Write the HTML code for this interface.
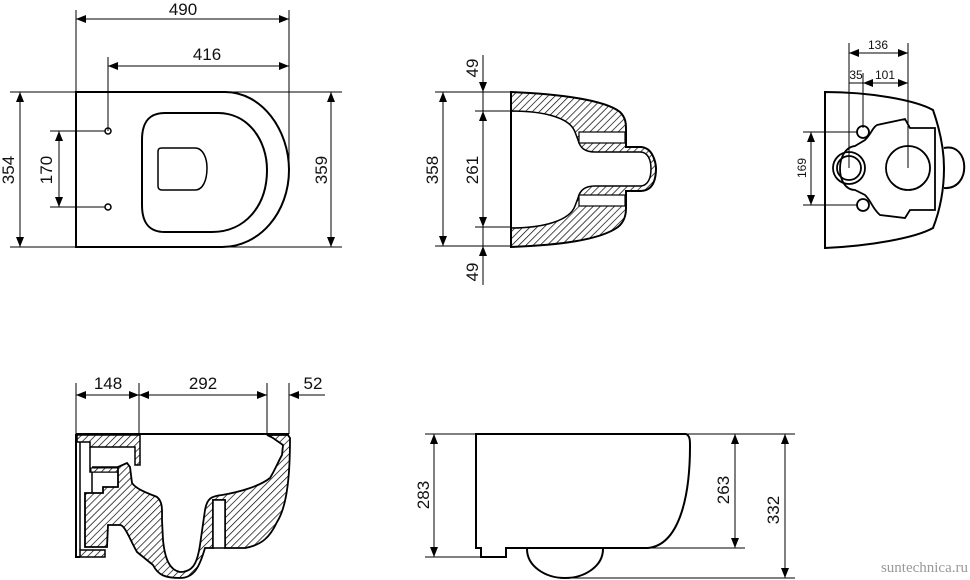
<!DOCTYPE html>
<html><head><meta charset="utf-8"><style>
html,body{margin:0;padding:0;background:#fff}
svg{display:block}
text{font-family:"Liberation Sans",sans-serif;fill:#111}
</style></head><body>
<svg width="970" height="580" viewBox="0 0 970 580" xmlns="http://www.w3.org/2000/svg">
<defs>
<marker id="a" viewBox="0 0 10 8" refX="10" refY="4" markerWidth="10" markerHeight="8" markerUnits="userSpaceOnUse" orient="auto-start-reverse"><path d="M0,0 L10,4 L0,8 Z" fill="#000"/></marker>
<pattern id="h" width="5" height="5" patternUnits="userSpaceOnUse" patternTransform="rotate(45)"><rect width="5" height="5" fill="#fff"/><line x1="0" y1="0" x2="0" y2="5" stroke="#000" stroke-width="1.4"/></pattern>
</defs>
<g stroke="#000" stroke-width="1" fill="none">
<!-- TOP LEFT -->
<line x1="76" y1="10" x2="76" y2="248"/><line x1="289" y1="10" x2="289" y2="170"/>
<line x1="108" y1="57" x2="108" y2="131"/>
<line x1="76" y1="19" x2="289" y2="19" marker-start="url(#a)" marker-end="url(#a)"/>
<line x1="108" y1="66" x2="289" y2="66" marker-start="url(#a)" marker-end="url(#a)"/>
<line x1="10" y1="92" x2="342" y2="92"/><line x1="10" y1="247" x2="342" y2="247"/>
<line x1="20" y1="92" x2="20" y2="247" marker-start="url(#a)" marker-end="url(#a)"/>
<line x1="331" y1="92" x2="331" y2="247" marker-start="url(#a)" marker-end="url(#a)"/>
<line x1="50" y1="131" x2="105" y2="131"/><line x1="50" y1="207" x2="105" y2="207"/>
<line x1="59" y1="131" x2="59" y2="207" marker-start="url(#a)" marker-end="url(#a)"/>
<path d="M76,92 L225,92 C262,92 289,130 289,170 C289,212 260,247 222,247 L76,247 Z" stroke-width="2"/>
<path d="M165,113 L218,113 C248,113 267,140 267,170 C267,206 245,232 212,232 L165,232 C150,232 142,224 142,205 L142,140 C142,121 150,113 165,113 Z" stroke-width="2"/>
<path d="M162,148 L195,148 C203,148 207,158 207,168 C207,180 203,190 195,190 L162,190 C159,190 158,188 158,186 L158,152 C158,149 159,148 162,148 Z" stroke-width="1.5"/>
<circle cx="108" cy="131" r="3" stroke-width="1.5"/><circle cx="108" cy="207" r="3" stroke-width="1.5"/>

<!-- TOP MIDDLE -->
<line x1="435" y1="92" x2="512" y2="92"/><line x1="435" y1="246" x2="512" y2="246"/>
<line x1="475" y1="111" x2="512" y2="111"/><line x1="475" y1="227" x2="512" y2="227"/>
<line x1="443" y1="92" x2="443" y2="246" marker-start="url(#a)" marker-end="url(#a)"/>
<line x1="483" y1="111" x2="483" y2="227" marker-start="url(#a)" marker-end="url(#a)"/>
<line x1="483" y1="55" x2="483" y2="92" marker-end="url(#a)"/>
<line x1="483" y1="285" x2="483" y2="246" marker-end="url(#a)"/>
<line x1="483" y1="92" x2="483" y2="111"/><line x1="483" y1="227" x2="483" y2="246"/>
<path d="M511,92 C560,94 605,100 620,112 C626,118 626,124 626,130 L626,147 L640,147 C655,147 656,168 656,168 C656,190 645,191 640,191 L626,191 L626,208 C626,216 624,222 618,227 C600,240 560,245 511,247 Z" fill="url(#h)" stroke-width="2"/>
<path d="M511,111 C545,111 570,118 575,132 L578,140 C580,148 585,152 595,152 L640,152 C648,152 651,160 651,169 C651,178 648,186 640,186 L595,186 C585,186 580,190 578,198 L575,206 C570,220 545,228 511,228 Z" fill="#fff" stroke-width="1.5"/>
<rect x="579" y="132" width="46" height="11" fill="#fff" stroke-width="1.2"/>
<rect x="579" y="195" width="46" height="11" fill="#fff" stroke-width="1.2"/>
<line x1="511" y1="92" x2="511" y2="247" stroke-width="2"/>

<!-- TOP RIGHT -->
<line x1="849" y1="43" x2="849" y2="168"/><line x1="908" y1="43" x2="908" y2="168"/>
<line x1="863" y1="73" x2="863" y2="128"/>
<line x1="849" y1="53" x2="908" y2="53" marker-start="url(#a)" marker-end="url(#a)"/>
<line x1="849" y1="83" x2="863" y2="83"/>
<line x1="863" y1="83" x2="908" y2="83" marker-start="url(#a)" marker-end="url(#a)"/>
<line x1="803" y1="132" x2="858" y2="132"/><line x1="803" y1="205" x2="858" y2="205"/>
<line x1="811" y1="132" x2="811" y2="205" marker-start="url(#a)" marker-end="url(#a)"/>
<path d="M825,92 C870,92 915,100 933,110 C940,130 944,150 944,168 C944,190 940,210 933,228 C915,238 870,246 825,248 Z" stroke-width="2"/>
<path d="M944,148 C970,142 972,190 944,188" stroke-width="2"/>
<path d="M877,125 L905,119 L910,128 L935,128 L935,210 L910,210 L905,218 L880,215 C872,208 872,202 865,195 L855,190 C835,190 835,148 855,146 L865,140 C872,133 872,128 877,125 Z" stroke-width="1.8"/>
<circle cx="908" cy="168" r="22" stroke-width="1.8"/>
<circle cx="849" cy="168" r="16" stroke-width="1.8"/><circle cx="849" cy="168" r="12" stroke-width="1.8"/>
<circle cx="863" cy="132" r="6" stroke-width="1.8"/><circle cx="863" cy="205" r="6" stroke-width="1.8"/>

<!-- BOTTOM LEFT -->
<line x1="76" y1="383" x2="76" y2="434"/><line x1="139" y1="383" x2="139" y2="434"/>
<line x1="267" y1="383" x2="267" y2="434"/><line x1="289" y1="383" x2="289" y2="434"/>
<line x1="76" y1="395" x2="139" y2="395" marker-start="url(#a)" marker-end="url(#a)"/>
<line x1="139" y1="395" x2="267" y2="395" marker-start="url(#a)" marker-end="url(#a)"/>
<line x1="325" y1="395" x2="289" y2="395" marker-end="url(#a)"/>
<line x1="76" y1="434" x2="289" y2="434" stroke-width="2"/>
<path d="M76,434 L76,557 L80,557" stroke-width="2"/>
<line x1="80" y1="438" x2="80" y2="550" stroke-width="1.5"/>
<path d="M77,435 L140,435 L140,465 L135,465 L135,447 L90,447 L90,442 L77,442 Z" fill="url(#h)" stroke-width="1.5"/>
<path d="M90,447 L90,472 L118,472 L118,467 L92,467" stroke-width="1.5"/>
<rect x="91" y="468" width="27" height="4" fill="url(#h)" stroke-width="1"/>
<line x1="92" y1="472" x2="92" y2="493" stroke-width="1.5"/>
<path d="M85,493 L103,493 L103,487 L118,487 L118,467 L127,463 L130,467 L132,483 C137,490 150,494 157,497 C163,502 162,510 162,520 L163,540 C165,560 170,570 180,572 C192,572 197,565 200,545 L205,510 C207,498 212,496 222,495 C240,492 260,486 270,478 C275,470 278,462 282,455 L283,445 L273,438 L267,435 L288,435 L290,438 C290,470 288,505 277,522 C270,537 262,545 245,548 L225,548 L225,500 L213,500 L213,548 L205,548 C200,565 195,578 180,578 C165,578 158,575 153,565 L137,552 C130,540 125,525 120,525 L108,525 L107,547 L85,547 Z" fill="url(#h)" stroke-width="1.8"/>
<rect x="213" y="500" width="12" height="48" fill="#fff" stroke-width="1.5"/>
<path d="M80,550 L105,550 L105,557 L80,557 Z" fill="url(#h)" stroke-width="1.5"/>

<!-- BOTTOM MIDDLE -->
<line x1="425" y1="434" x2="795" y2="434"/>
<line x1="425" y1="557" x2="480" y2="557"/>
<line x1="648" y1="548" x2="745" y2="548"/>
<line x1="565" y1="578" x2="795" y2="578"/>
<line x1="434" y1="434" x2="434" y2="557" marker-start="url(#a)" marker-end="url(#a)"/>
<line x1="735" y1="434" x2="735" y2="548" marker-start="url(#a)" marker-end="url(#a)"/>
<line x1="785" y1="434" x2="785" y2="578" marker-start="url(#a)" marker-end="url(#a)"/>
<path d="M476,434 L686,434 C690,436 690,440 690,446 C690,500 678,545 648,548 L506,548 L506,557 L481,557 L481,548 L476,548 Z" stroke-width="2" fill="#fff"/>
<path d="M527,549 C527,566 545,578 565,578 C585,578 603,566 603,549" stroke-width="2"/>
</g>
<g font-size="17">
<text x="183" y="15" text-anchor="middle">490</text>
<text x="207" y="60" text-anchor="middle">416</text>
<text transform="translate(14,170) rotate(-90)" text-anchor="middle">354</text>
<text transform="translate(52,170) rotate(-90)" text-anchor="middle">170</text>
<text transform="translate(327,170) rotate(-90)" text-anchor="middle">359</text>
<text transform="translate(438,170) rotate(-90)" text-anchor="middle">358</text>
<text transform="translate(478,170) rotate(-90)" text-anchor="middle">261</text>
<text transform="translate(478,68) rotate(-90)" text-anchor="middle">49</text>
<text transform="translate(478,272) rotate(-90)" text-anchor="middle">49</text>
<text x="108" y="389" text-anchor="middle">148</text>
<text x="203" y="389" text-anchor="middle">292</text>
<text x="313" y="389" text-anchor="middle">52</text>
<text transform="translate(429,495) rotate(-90)" text-anchor="middle">283</text>
<text transform="translate(729,490) rotate(-90)" text-anchor="middle">263</text>
<text transform="translate(779,510) rotate(-90)" text-anchor="middle">332</text>
</g>
<g font-size="12">
<text x="878" y="49" text-anchor="middle">136</text>
<text x="856" y="79" text-anchor="middle">35</text>
<text x="885" y="79" text-anchor="middle">101</text>
<text transform="translate(806,168) rotate(-90)" text-anchor="middle">169</text>
</g>
<text x="968" y="572" text-anchor="end" font-size="15" style="fill:#999;font-family:'Liberation Serif',serif">suntechnica.ru</text>
</svg>
</body></html>
